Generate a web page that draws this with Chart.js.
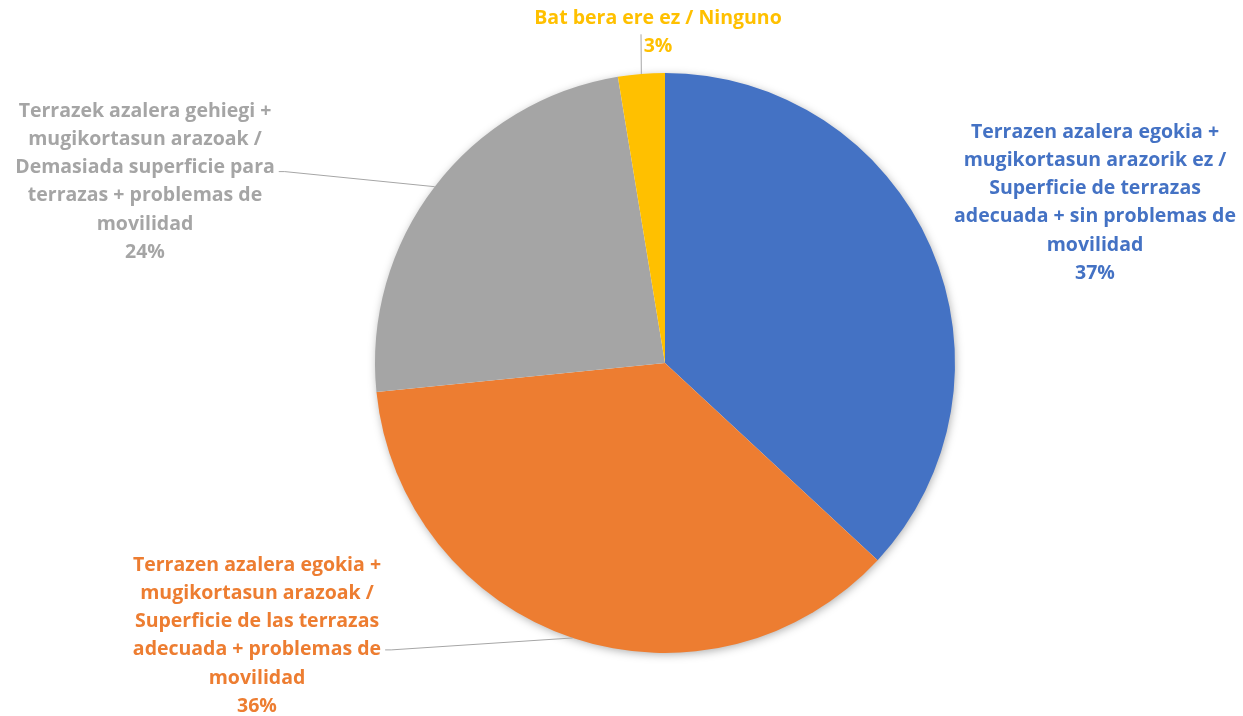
<!DOCTYPE html>
<html>
<head>
<meta charset="utf-8">
<script src="https://cdn.jsdelivr.net/npm/chart.js@4"></script>
<style>
  body { margin: 0; background: #fff; }
  canvas { display: block; }
</style>
</head>
<body>
<canvas id="chart" width="1243" height="716"></canvas>
<script>
// data
let categories = [
  ["Terrazen azalera egokia +", "mugikortasun arazorik ez /", "Superficie de terrazas", "adecuada + sin problemas de", "movilidad"],
  ["Terrazen azalera egokia +", "mugikortasun arazoak /", "Superficie de las terrazas", "adecuada + problemas de", "movilidad"],
  ["Terrazek azalera gehiegi +", "mugikortasun arazoak /", "Demasiada superficie para", "terrazas + problemas de", "movilidad"],
  ["Bat bera ere ez / Ninguno"],
];
let values = [36.9, 36.5, 24.0, 2.6];
let percentLabels = ["37%", "36%", "24%", "3%"];
let colors = ["#4472C4", "#ED7D31", "#A5A5A5", "#FFC000"];

// where the label blocks go (offset from pie centre), and which line gets the leader
let labelPos = [
  { dx: 430, dy: -231, leader: -1 },
  { dx: -408, dy: 202, leader: 3 },
  { dx: -520, dy: -252, leader: 2 },
  { dx: -7, dy: -345, leader: 1 },
];
const lineH = 28.3;
const font = "bold 19.5px 'Open Sans'";

// soft shadow under the pie
const pieShadow = {
  id: "pieShadow",
  beforeDatasetsDraw(chart) {
    let arc = chart.getDatasetMeta(0).data[0];
    let ctx = chart.ctx;
    ctx.save();
    ctx.shadowColor = "rgba(0,0,0,0.35)";
    ctx.shadowBlur = 10;
    ctx.shadowOffsetX = 1;
    ctx.shadowOffsetY = 2;
    ctx.fillStyle = "#fff";
    ctx.beginPath();
    ctx.arc(arc.x, arc.y, arc.outerRadius - 1, 0, Math.PI * 2);
    ctx.fill();
    ctx.restore();
  },
};

// labels outside the pie with leader lines
const outLabels = {
  id: "outLabels",
  afterDatasetsDraw(chart) {
    let ctx = chart.ctx;
    let arcs = chart.getDatasetMeta(0).data;
    ctx.save();
    ctx.font = font;
    ctx.textAlign = "center";
    ctx.textBaseline = "middle";
    arcs.forEach((arc, i) => {
      let p = labelPos[i];
      let lines = categories[i].concat([percentLabels[i]]);
      let cx = arc.x + p.dx;
      let y0 = arc.y + p.dy;
      if (p.leader >= 0) {
        let mid = (arc.startAngle + arc.endAngle) / 2;
        let ex = arc.x + Math.cos(mid) * arc.outerRadius;
        let ey = arc.y + Math.sin(mid) * arc.outerRadius;
        let ly = y0 + p.leader * lineH;
        let sx, sy;
        if (i == 3) {
          sx = cx - 17;
          sy = ly - 12;
        } else {
          let w = ctx.measureText(lines[p.leader]).width;
          sx = cx + w / 2 + 4;
          sy = ly + (i == 2 ? 4 : 0);
        }
        ctx.strokeStyle = "#A6A6A6";
        ctx.lineWidth = 1;
        ctx.beginPath();
        if (i != 3) {
          ctx.moveTo(sx, sy);
          ctx.lineTo(sx + 6, sy);
          ctx.lineTo(ex, ey);
        } else {
          ctx.moveTo(sx, sy);
          ctx.lineTo(ex, ey);
        }
        ctx.stroke();
      }
      ctx.fillStyle = colors[i];
      lines.forEach((t, k) => {
        ctx.fillText(t, cx, y0 + k * lineH);
      });
    });
    ctx.restore();
  },
};

new Chart(document.getElementById("chart"), {
  type: "pie",
  data: {
    labels: categories.map((c) => c.join(" ")),
    datasets: [
      {
        data: values,
        backgroundColor: colors,
        borderWidth: 0,
      },
    ],
  },
  options: {
    responsive: false,
    animation: false,
    layout: { padding: { left: 375, right: 288, top: 73, bottom: 63 } },
    plugins: {
      legend: { display: false },
      tooltip: { enabled: false },
    },
  },
  plugins: [pieShadow, outLabels],
});
</script>
</body>
</html>
